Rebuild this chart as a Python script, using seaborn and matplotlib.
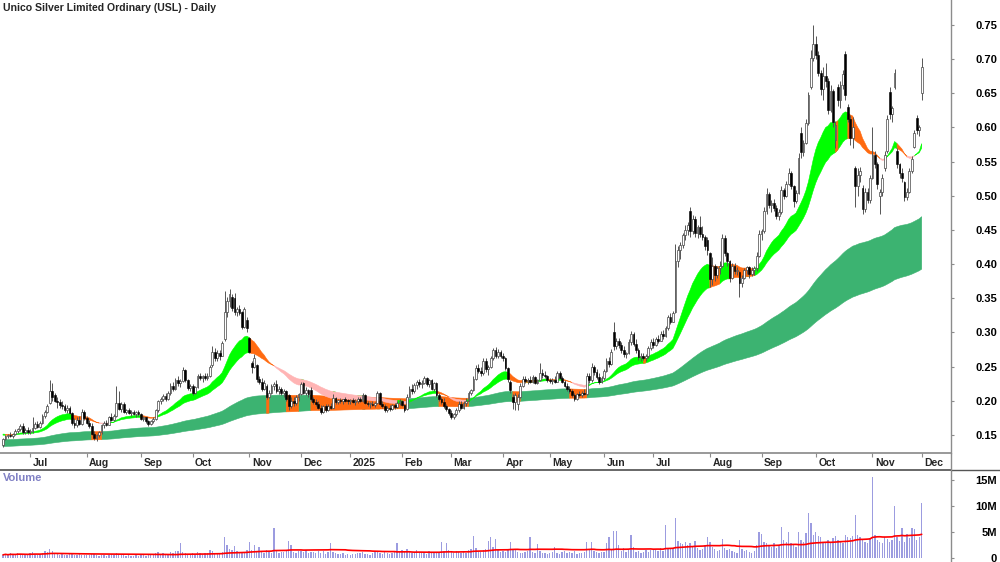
import numpy as np
import pandas as pd
import matplotlib
matplotlib.use("Agg")
import matplotlib.pyplot as plt
from matplotlib.lines import Line2D
import seaborn as sns

# ---------------- data (prices in thousandths of a dollar, volume in 100k shares) ----------------
HOLIDAYS = ["2024-12-25", "2024-12-26", "2025-01-01", "2025-01-27",
            "2025-04-18", "2025-04-21", "2025-04-25", "2025-06-09"]
FIRST_DAY = "2024-06-14"
LAST_DAY = "2025-12-01"

open_px = [
    135,144,148,150,149,152,156,158,163,154,157,
    155,156,160,166,162,168,178,184,197,214,208,200,198,194,192,186,190,182,168,164,172,166,183,
    175,168,163,152,146,150,154,164,167,165,176,172,178,197,188,195,184,186,182,184,181,183,
    180,174,176,170,166,170,174,186,199,203,207,202,212,222,218,231,226,229,245,230,219,
    222,212,220,236,233,236,234,237,252,272,262,270,266,290,330,346,352,350,330,334,330,308,318,
    292,255,250,252,232,228,218,222,206,212,222,225,214,218,212,215,208,192,200,197,205,
    210,226,212,216,216,202,198,196,190,184,192,186,193,190,204,198,201,199,202,200,
    199,201,198,200,203,199,208,197,195,196,194,197,211,196,192,186,190,188,194,191,197,
    199,194,188,206,218,214,223,228,224,226,233,225,230,218,226,208,203,198,192,188,
    182,176,180,186,196,190,197,200,212,216,232,248,244,240,258,246,250,262,275,266,272,
    265,262,248,228,205,198,196,205,222,232,229,231,228,235,226,230,240,238,236,
    231,229,230,228,240,234,228,222,218,215,208,203,210,208,212,210,236,230,250,242,235,228,
    233,244,258,254,300,280,288,282,274,268,270,286,298,283,274,264,266,262,265,277,
    286,282,290,288,298,295,306,322,316,330,404,420,428,442,450,478,448,466,446,455,444,440,436,
    416,378,398,384,394,398,438,416,404,380,398,390,388,372,380,392,396,386,392,394,412,
    444,448,478,502,486,490,482,470,476,508,500,518,534,514,492,504,592,564,578,606,660,702,
    722,706,680,656,676,668,626,654,582,660,640,662,708,630,612,584,540,514,530,512,480,506,494,
    526,560,546,500,506,540,566,652,620,660,566,546,534,520,498,506,536,572,614,596,
    650,
]
high_px = [
    146,150,152,154,153,158,160,166,168,160,161,
    159,176,169,170,170,181,187,195,230,226,212,206,202,199,196,194,192,184,175,176,178,188,186,
    178,172,167,156,152,156,166,170,172,178,182,180,222,215,198,198,188,190,186,187,185,186,
    182,178,177,172,172,176,188,201,206,210,212,214,226,228,234,236,232,249,247,232,225,
    224,222,239,240,238,240,240,252,280,278,275,274,288,360,352,363,356,358,338,340,332,338,322,
    294,258,268,254,236,234,230,224,216,224,228,231,222,220,218,216,210,205,206,209,212,
    228,228,220,218,220,206,202,200,194,194,196,195,197,210,206,203,204,203,205,203,
    203,204,202,205,206,212,210,200,198,200,198,214,213,200,195,192,194,196,197,199,202,
    201,196,210,222,224,226,231,232,230,236,235,232,232,228,228,212,206,204,195,190,
    186,182,190,200,199,200,204,214,218,236,252,254,250,262,262,252,266,278,279,276,275,
    270,264,250,230,210,212,210,226,236,236,234,236,238,237,232,256,246,243,238,
    234,233,236,244,243,236,230,226,222,218,212,212,215,214,218,240,240,256,252,246,240,236,
    246,262,264,276,316,292,292,286,280,272,290,302,300,290,277,270,270,268,280,290,
    292,294,296,302,304,310,326,328,332,430,426,432,446,458,462,484,472,470,458,470,456,442,440,
    418,410,400,398,404,444,442,418,406,402,402,396,390,384,394,398,398,396,398,418,450,
    452,484,512,506,494,496,486,480,514,512,522,540,536,516,508,562,600,582,612,652,714,750,
    734,712,684,688,694,672,662,656,610,664,668,684,712,634,618,616,544,540,542,516,512,512,530,
    600,566,550,510,532,566,618,660,632,686,570,548,540,522,512,540,558,596,618,604,
    702,
]
low_px = [
    133,142,146,147,146,150,153,156,152,151,152,
    152,153,158,160,160,166,175,182,195,200,198,190,190,188,184,182,180,165,160,162,164,165,172,
    166,160,150,143,141,147,152,160,163,164,170,170,176,186,184,182,180,180,178,179,177,178,
    172,170,168,163,164,168,172,184,196,199,200,201,209,214,216,222,220,228,228,216,215,
    208,210,219,230,228,231,230,235,250,258,258,260,265,288,323,338,332,326,324,326,305,306,300,
    270,240,248,228,224,214,216,203,204,210,216,212,210,208,206,199,187,190,193,194,200,
    208,210,208,206,200,196,192,188,181,182,184,185,188,189,196,196,197,196,198,196,
    195,197,194,197,198,198,196,192,190,193,191,195,194,190,183,184,185,186,188,189,194,
    192,183,187,205,210,212,218,220,219,224,222,220,216,214,205,199,195,190,185,179,
    173,174,178,184,188,188,193,199,208,215,230,240,236,238,242,238,248,260,262,262,262,
    258,245,228,212,188,186,186,204,220,226,225,226,226,224,224,229,234,233,228,
    226,224,226,227,232,226,220,215,212,206,200,201,206,205,208,209,226,228,238,232,224,226,
    231,242,250,253,274,276,278,270,264,262,268,282,280,270,260,258,260,258,263,274,
    278,280,284,287,290,294,304,312,315,328,396,408,424,436,442,440,444,440,438,440,436,420,414,
    366,370,376,380,386,396,412,398,374,378,386,384,352,366,378,386,380,382,384,390,410,
    436,446,474,482,476,478,466,465,474,496,498,516,510,484,490,502,556,558,576,604,656,698,
    700,676,648,640,660,620,622,600,570,632,628,656,640,608,574,570,484,500,520,474,476,490,490,
    524,540,510,474,500,536,562,612,608,656,540,526,520,492,494,504,534,570,590,588,
    640,
]
close_px = [
    144,148,150,149,152,156,158,163,154,157,155,
    156,160,166,162,168,178,184,193,214,205,200,198,194,192,186,190,182,168,164,172,166,183,175,
    168,163,152,146,150,154,164,167,165,176,172,178,197,188,195,184,186,182,184,181,183,180,
    174,176,170,166,170,174,186,199,203,207,202,212,222,218,231,226,229,245,230,219,222,
    212,220,236,233,236,234,237,250,272,262,270,266,284,330,346,356,336,330,334,328,308,334,306,
    272,250,262,232,228,218,226,206,212,222,225,214,218,212,215,202,192,200,197,205,210,
    224,212,216,210,202,198,196,190,184,192,186,193,190,204,198,201,199,202,200,199,
    201,198,200,203,199,208,197,195,196,194,197,211,196,192,186,190,188,194,191,197,199,
    194,186,206,218,214,223,228,224,226,233,225,230,218,226,208,203,198,192,188,182,
    176,180,186,196,190,197,200,212,216,232,248,244,240,258,246,250,262,275,266,272,265,
    262,248,232,216,198,208,205,222,232,229,231,228,235,226,230,240,238,236,231,
    229,230,228,240,234,228,222,218,215,208,203,210,208,212,210,236,230,250,242,235,228,233,
    244,258,254,272,280,288,282,274,268,270,286,298,283,274,264,266,262,265,277,286,
    282,290,288,298,295,306,322,316,328,404,420,428,442,450,458,448,466,446,455,444,440,426,420,
    378,398,384,394,398,438,416,404,380,398,390,392,372,380,392,396,386,392,394,412,444,
    448,478,502,486,490,482,470,476,508,500,518,534,514,492,504,556,564,578,606,648,702,722,
    706,680,656,676,668,626,654,608,604,640,662,678,648,612,584,600,514,530,536,480,506,494,526,
    560,546,518,506,526,560,612,620,628,680,546,534,526,498,506,536,554,592,596,600,
    688,
]
volume_100k = [
    6,8,5,9,7,6,10,8,6,7,5,
    9,12,7,6,8,10,14,12,17,13,9,7,6,8,5,6,7,9,6,5,8,6,5,
    6,5,8,7,5,4,6,5,4,6,7,5,9,8,6,5,4,5,4,3,5,4,
    5,6,4,5,6,7,9,11,8,10,7,8,12,9,14,13,29,11,9,8,7,
    9,8,12,9,8,10,9,15,13,10,9,8,12,40,24,18,16,23,14,12,11,10,15,
    31,16,25,14,22,12,10,15,12,10,58,14,10,12,11,16,33,24,12,10,14,
    14,12,16,10,11,12,9,13,10,14,8,12,29,11,9,7,8,10,6,7,
    6,8,7,9,10,12,8,7,6,9,11,14,10,8,12,9,7,10,11,29,13,
    15,12,18,14,10,12,16,11,9,10,8,13,10,12,9,11,31,14,28,16,
    12,10,14,11,9,13,10,15,18,42,20,14,12,16,18,33,40,22,36,15,12,
    14,12,15,31,18,16,12,10,9,11,14,40,12,10,27,13,9,10,8,
    9,12,22,10,8,11,14,9,12,10,13,8,10,9,12,31,18,31,14,12,10,11,
    12,28,40,16,52,52,25,14,20,12,18,44,22,12,14,9,12,15,11,16,
    18,16,14,20,13,63,18,17,20,76,32,28,26,30,24,28,22,33,20,16,18,25,41,
    30,22,18,14,16,36,20,15,17,13,12,10,35,18,14,16,12,10,13,25,50,
    46,30,28,25,22,28,20,24,60,35,30,50,28,25,22,50,35,30,48,86,67,45,
    50,42,40,30,28,35,30,38,42,35,30,28,45,40,38,42,82,45,40,35,30,28,38,
    155,45,35,30,28,40,36,30,35,100,40,32,57,30,47,38,57,56,34,40,
    106,
]
# ribbon settings: EMA periods and their starting levels read at the left edge of the chart
SHORT_PERIODS = [21, 36]
SHORT_START = [0.152, 0.150]
LONG_PERIODS = [140, 250]
LONG_START = [0.143, 0.133]
VOL_MA_WINDOW = 50
PRICE_TICKS = [0.15, 0.20, 0.25, 0.30, 0.35, 0.40, 0.45, 0.50, 0.55, 0.60, 0.65, 0.70, 0.75]
VOL_TICKS = [0, 5e6, 10e6, 15e6]
VOL_LABELS = ["0", "5M", "10M", "15M"]
TITLE = "Unico Silver Limited Ordinary (USL) - Daily"

# ---------------- preparation ----------------
dates = pd.bdate_range(FIRST_DAY, LAST_DAY, freq="C", holidays=HOLIDAYS)
o = np.array(open_px) / 1000.0
h = np.array(high_px) / 1000.0
l = np.array(low_px) / 1000.0
c = np.array(close_px) / 1000.0
v = np.array(volume_100k) * 1e5
n = len(c)
assert len(dates) == n == len(o) == len(h) == len(l) == len(v)
x = np.arange(n)


def ema(values, period, start):
    a = 2.0 / (period + 1)
    out = np.empty(len(values))
    prev = start
    for i, val in enumerate(values):
        prev = prev + a * (val - prev)
        out[i] = prev
    return out


s_fast = ema(c, SHORT_PERIODS[0], SHORT_START[0])
s_slow = ema(c, SHORT_PERIODS[1], SHORT_START[1])
l_fast = ema(c, LONG_PERIODS[0], LONG_START[0])
l_slow = ema(c, LONG_PERIODS[1], LONG_START[1])
vol_ma = pd.Series(v).rolling(VOL_MA_WINDOW, min_periods=1).mean().values

# ---------------- style ----------------
sns.set_theme(style="white")
plt.rcParams["font.family"] = ["Liberation Sans", "DejaVu Sans"]
GREEN = "#00ff00"
ORANGE = "#ff6a10"
PINK = "#ffb4b4"
DKGREEN = "#3cb371"
AXC = "#8c8c8c"

fig = plt.figure(figsize=(10, 5.62), dpi=100)
H = 562.0
ax = fig.add_axes([0, 1 - 453 / H, 0.951, 453 / H])
axv = fig.add_axes([0, 0, 0.951, 92 / H])
XL = (-1.22, 384.9)


def seg_fill(a, y1, y2, mask, color, z):
    m = mask.copy()
    m[1:] |= mask[:-1]
    a.fill_between(x, y1, y2, where=m, color=color, lw=0.4, edgecolor=color, zorder=z)


# long ribbon
l_rise = np.r_[True, np.diff(l_fast) >= 0]
seg_fill(ax, l_fast, l_slow, l_rise, DKGREEN, 2)
seg_fill(ax, l_fast, l_slow, ~l_rise, ORANGE, 2)

# short ribbon
s_rise = np.r_[True, np.diff(s_fast) >= 0]
s_bull = s_fast >= s_slow
seg_fill(ax, s_fast, s_slow, s_rise, GREEN, 3)
seg_fill(ax, s_fast, s_slow, (~s_rise) & s_bull, ORANGE, 3)
seg_fill(ax, s_fast, s_slow, (~s_rise) & (~s_bull), PINK, 3)

# candles
up = c >= o
ax.vlines(x, l, h, color="#555555", lw=0.7, zorder=4)
body_lo = np.minimum(o, c)
body_h = np.maximum(np.abs(c - o), 0.0015)
ax.bar(x[up], body_h[up], bottom=body_lo[up], width=0.72, color="white",
       edgecolor="#444444", linewidth=0.5, zorder=5)
ax.bar(x[~up], body_h[~up], bottom=body_lo[~up], width=0.72, color="black",
       edgecolor="black", linewidth=0.4, zorder=5)

ax.set_xlim(*XL)
ax.set_ylim(0.1236, 0.7866)

# volume
axv.bar(x, v, width=0.55, color="#9c9ce0", linewidth=0, zorder=2)
sns.lineplot(x=x, y=vol_ma, ax=axv, color="#ff0000", lw=1.2, zorder=3)
axv.set_xlim(*XL)
axv.set_ylim(-0.77e6, 16.9e6)

# ---------------- axes cosmetics ----------------
for a in (ax, axv):
    a.set_facecolor("white")
    a.grid(False)
    a.spines["left"].set_visible(False)
    a.spines["right"].set_color(AXC)
    a.spines["right"].set_linewidth(1.0)
    a.yaxis.tick_right()
    a.set_xlabel("")
    a.set_ylabel("")

ax.spines["top"].set_visible(False)
ax.spines["bottom"].set_color(AXC)
axv.spines["bottom"].set_visible(False)
axv.spines["top"].set_color("#555555")

pad_pt = 46 / 1.389 - 2.5
ax.set_yticks(PRICE_TICKS)
ax.set_yticklabels([f"{t:.2f}" for t in PRICE_TICKS])
axv.set_yticks(VOL_TICKS)
axv.set_yticklabels(VOL_LABELS)
for a in (ax, axv):
    a.tick_params(axis="y", which="both", right=True, left=False, direction="out",
                  length=2.5, width=0.8, color=AXC, pad=pad_pt,
                  labelsize=8, labelcolor="black")
    for t in a.get_yticklabels():
        t.set_ha("right")
        t.set_fontweight("bold")

# month ticks
month_start = pd.Series(x, index=dates).groupby([dates.year, dates.month]).min().values[1:]
month_dates = dates[month_start]
month_lbl = [("2025" if (d.month == 1) else d.strftime("%b")) for d in month_dates]
ax.set_xticks(month_start)
ax.set_xticklabels([])
ax.tick_params(axis="x", bottom=True, direction="out", length=3, width=0.8, color=AXC)
axv.set_xticks([])
for pos, lab in zip(month_start, month_lbl):
    ax.text(pos + 1.0, -9.5 / 453, lab, transform=ax.get_xaxis_transform(),
            ha="left", va="center", fontsize=7.5, fontweight="bold")

# texts
fig.text(3 / 1000, 1 - 8 / H, TITLE, ha="left", va="center", fontsize=7.6, fontweight="bold")
fig.text(3 / 1000, 1 - 478 / H, "Volume", ha="left", va="center", fontsize=8,
         color="#8080c4", fontweight="bold")

# separator lines
fig.add_artist(Line2D([0.951, 1.0], [1 - 470 / H, 1 - 470 / H], transform=fig.transFigure,
                      color="#555555", lw=1.0))
fig.add_artist(Line2D([0.951, 0.951], [1 - 470 / H, 1 - 453 / H], transform=fig.transFigure,
                      color=AXC, lw=1.0))

fig.savefig("out.png", dpi=100, facecolor="white")
